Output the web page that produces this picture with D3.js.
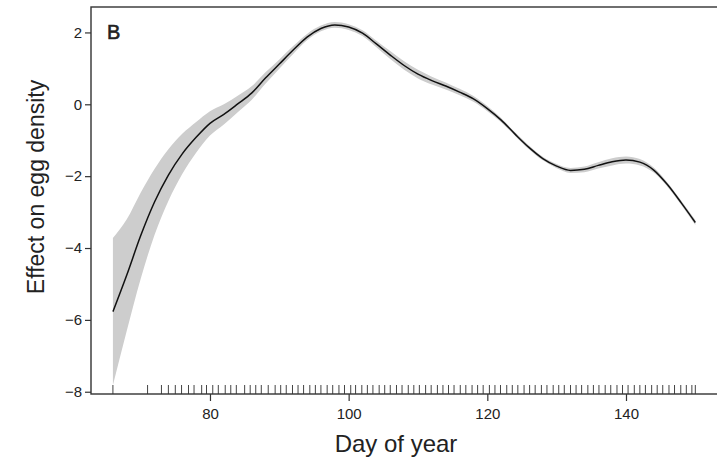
<!DOCTYPE html>
<html>
<head>
<meta charset="utf-8">
<script src="https://cdn.jsdelivr.net/npm/d3@7"></script>
<style>
  html, body { margin: 0; padding: 0; background: #fff; }
  svg { display: block; font-family: "Liberation Sans", Arial, Helvetica, sans-serif; }
</style>
</head>
<body>
<svg id="chart" width="717" height="459"></svg>
<script>
// Smooth term for day of year: fitted effect and half-width of the confidence band
const days = [66, 68, 70, 72, 74, 76, 78, 80, 82, 84, 86, 88, 90, 92, 94, 96, 98, 100,
  102, 104, 106, 108, 110, 112, 114, 116, 118, 120, 122, 124, 126, 128, 130, 132, 134,
  136, 138, 140, 142, 144, 146, 148, 150];
const effect = [-5.77, -4.75, -3.66, -2.72, -1.97, -1.38, -0.92, -0.53, -0.28, 0.01, 0.31,
  0.73, 1.12, 1.51, 1.87, 2.11, 2.21, 2.15, 1.98, 1.68, 1.37, 1.08, 0.84, 0.66, 0.51,
  0.34, 0.15, -0.12, -0.44, -0.83, -1.20, -1.51, -1.72, -1.84, -1.81, -1.70, -1.60,
  -1.55, -1.61, -1.83, -2.24, -2.75, -3.29];
const bandHalf = [2.05, 1.55, 1.2, 0.92, 0.72, 0.56, 0.43, 0.34, 0.28, 0.23, 0.19, 0.16,
  0.13, 0.11, 0.09, 0.08, 0.08, 0.08, 0.08, 0.09, 0.11, 0.12, 0.12, 0.11, 0.10, 0.09,
  0.08, 0.07, 0.06, 0.05, 0.05, 0.05, 0.06, 0.07, 0.08, 0.09, 0.10, 0.10, 0.09, 0.07,
  0.06, 0.06, 0.07];

// Sampling days shown as a rug along the x axis
const sampleDays = [66, 71, 73, 74, 75, 75.9, 76.9, 77.7, 78.8, 79.5, 80.4, 81.2, 82.2,
  83, 83.8, 85, 85.8, 86.6, 87.4, 88.4, 89.4, 90.2, 91, 91.9, 92.7, 93.5, 94.4, 95.2,
  96, 96.9, 97.7, 98.6, 99.4, 100.3, 101, 101.9, 102.7, 103.5, 104.4, 105.2, 106,
  106.9, 107.7, 108.6, 109.4, 110.2, 111.1, 111.9, 112.8, 113.6, 114.4, 115.2, 116.1,
  116.9, 117.8, 118.6, 119.4, 120.3, 121.1, 121.9, 122.8, 123.6, 124.4, 125.3, 126.1,
  126.9, 127.8, 128.6, 129.5, 130.3, 131.1, 132, 132.8, 133.6, 134.5, 135.3, 136.1,
  137, 137.8, 138.7, 139.5, 140.3, 141.2, 142, 142.8, 143.7, 144.5, 145.3, 146.2, 147,
  147.9, 148.7, 149.5, 150];

const xTicks = [80, 100, 120, 140];
const yTicks = [-8, -6, -4, -2, 0, 2];
const panelLabel = "B";
const xTitle = "Day of year";
const yTitle = "Effect on egg density";

const svg = d3.select("#chart");
const plot = { left: 91, right: 718, top: 7, bottom: 394 };

const x = d3.scaleLinear().domain([62.84, 153.27]).range([plot.left, plot.right]);
const y = d3.scaleLinear().domain([-8.063, 2.708]).range([plot.bottom, plot.top]);

const rows = days.map((d, i) => ({ day: d, fit: effect[i], hw: bandHalf[i] }));

// confidence band
svg.append("path")
  .datum(rows)
  .attr("fill", "#cdcdcd")
  .attr("stroke", "none")
  .attr("d", d3.area()
    .curve(d3.curveMonotoneX)
    .x(r => x(r.day))
    .y0(r => y(r.fit - r.hw))
    .y1(r => y(r.fit + r.hw)));

// fitted effect
svg.append("path")
  .datum(rows)
  .attr("fill", "none")
  .attr("stroke", "#111")
  .attr("stroke-width", 1.5)
  .attr("d", d3.line()
    .curve(d3.curveMonotoneX)
    .x(r => x(r.day))
    .y(r => y(r.fit)));

// rug of sampling days
svg.append("g")
  .selectAll("line")
  .data(sampleDays)
  .join("line")
  .attr("x1", d => x(d)).attr("x2", d => x(d))
  .attr("y1", plot.bottom).attr("y2", plot.bottom - 9)
  .attr("stroke", "#444")
  .attr("stroke-width", 1);

// plot frame
svg.append("rect")
  .attr("x", plot.left).attr("y", plot.top)
  .attr("width", plot.right - plot.left).attr("height", plot.bottom - plot.top)
  .attr("fill", "none")
  .attr("stroke", "#333")
  .attr("stroke-width", 1.4);

// y axis
const yAxis = svg.append("g")
  .attr("transform", `translate(${plot.left},0)`)
  .call(d3.axisLeft(y).tickValues(yTicks).tickSize(6).tickPadding(3)
    .tickFormat(d => d < 0 ? "\u2212" + Math.abs(d) : String(d)));
yAxis.select(".domain").remove();
yAxis.selectAll(".tick line").attr("stroke", "#333").attr("stroke-width", 1.2);
yAxis.selectAll(".tick text")
  .attr("font-size", 15).attr("fill", "#222")
  .attr("font-family", "'Liberation Sans', Arial, sans-serif");

// x axis
const xAxis = svg.append("g")
  .attr("transform", `translate(0,${plot.bottom})`)
  .call(d3.axisBottom(x).tickValues(xTicks).tickSize(7).tickPadding(7));
xAxis.select(".domain").remove();
xAxis.selectAll(".tick line").attr("stroke", "#333").attr("stroke-width", 1.2);
xAxis.selectAll(".tick text")
  .attr("font-size", 15).attr("fill", "#222")
  .attr("font-family", "'Liberation Sans', Arial, sans-serif");

// titles
svg.append("text")
  .attr("x", 396).attr("y", 452)
  .attr("text-anchor", "middle")
  .attr("font-size", 24).attr("fill", "#222")
  .text(xTitle);

svg.append("text")
  .attr("transform", "translate(44,187) rotate(-90)")
  .attr("text-anchor", "middle")
  .attr("font-size", 23).attr("fill", "#222")
  .text(yTitle);

svg.append("text")
  .attr("x", 107).attr("y", 39)
  .attr("font-size", 20).attr("fill", "#222")
  .attr("stroke", "#222").attr("stroke-width", 0.6)
  .text(panelLabel);
</script>
</body>
</html>
